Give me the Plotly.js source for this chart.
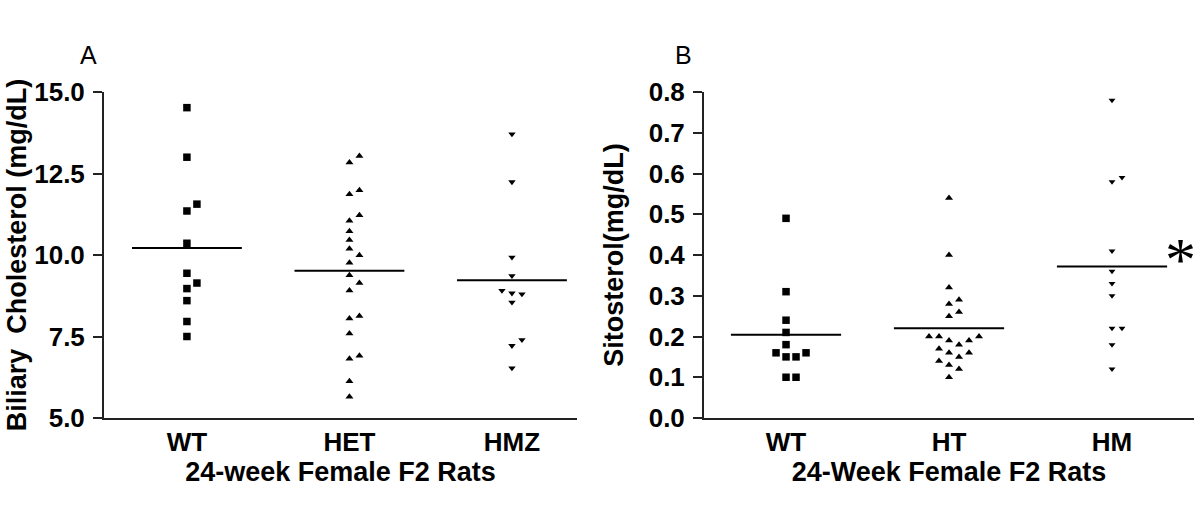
<!DOCTYPE html>
<html>
<head>
<meta charset="utf-8">
<script src="https://cdn.plot.ly/plotly-3.0.1.min.js"></script>
<style>html,body{margin:0;padding:0;background:#fff;}#chart{width:1200px;height:514px;}</style>
</head>
<body>
<div id="chart"></div>
<script>
// ---- Data ----
const categoriesA = ['WT', 'HET', 'HMZ'];
const wtA  = [14.52, 13.0, 11.56, 11.35, 10.36, 9.44, 9.14, 8.97, 8.60, 7.96, 7.50];
const hetA = [13.04, 12.84, 11.99, 11.86, 11.22, 11.05, 10.73, 10.46, 10.19, 9.99, 9.76, 9.38, 9.14, 8.91, 8.13, 8.05, 7.59, 6.91, 6.82, 6.13, 5.65];
const hmzA = [13.71, 12.24, 9.93, 9.36, 8.91, 8.83, 8.80, 8.55, 7.40, 7.22, 6.53];

const categoriesB = ['WT', 'HT', 'HM'];
const wtB = [0.49, 0.31, 0.24, 0.21, 0.18, 0.16, 0.16, 0.15, 0.15, 0.10, 0.10];
const htB = [0.54, 0.40, 0.32, 0.29, 0.28, 0.26, 0.25, 0.20, 0.20, 0.20, 0.19, 0.19, 0.18, 0.17, 0.16, 0.16, 0.15, 0.14, 0.13, 0.12, 0.10];
const hmB = [0.78, 0.59, 0.58, 0.41, 0.36, 0.33, 0.30, 0.22, 0.22, 0.18, 0.12];

const yTitleA = 'Biliary\u00A0 Cholesterol (mg/dL)';
const yTitleB = 'Sitosterol(mg/dL)';
const xTitleA = '24-week Female F2 Rats';
const xTitleB = '24-Week Female F2 Rats';
const panelLabels = ['A', 'B'];
const significance = '*';

// ---- Layout geometry ----
const W = 1200, H = 514;
const margin = {l: 0, r: 0, t: 92, b: 96};
const plotH = H - margin.t - margin.b;
const domA = [0.0867, 0.4808], domB = [0.5867, 0.995];
const xRangeA = [-0.51, 2.4], xRangeB = [-0.503, 2.503];
const yRangeA = [5, 15], yRangeB = [0, 0.8];
const halfMean = 0.338;

function pxPerUnitX(dom, rng) { return (dom[1] - dom[0]) * W / (rng[1] - rng[0]); }
function pxPerUnitY(rng) { return plotH / (rng[1] - rng[0]); }

// simple deterministic beeswarm: points that would overlap are shifted sideways
function swarm(values, yppu, xppu, slotPx, minDist) {
  const order = values.map((v, i) => i).sort((a, b) => values[a] - values[b]);
  const placed = [];
  const slots = new Array(values.length).fill(0);
  const cand = [0, 1, -1, 2, -2, 3, -3];
  order.forEach(i => {
    for (const s of cand) {
      const hit = placed.some(p => p.s === s && Math.abs(p.v - values[i]) * yppu < minDist);
      if (!hit) { slots[i] = s; placed.push({s: s, v: values[i]}); break; }
    }
  });
  return slots.map(s => s * slotPx / xppu);
}

const mean = arr => arr.reduce((a, b) => a + b, 0) / arr.length;

function groupTraces(values, idx, xa, ya, symbol, size, yppu, xppu) {
  const off = swarm(values, yppu, xppu, 10, 8.5);
  const m = mean(values);
  return [
    {type: 'scatter', mode: 'markers', xaxis: xa, yaxis: ya,
     x: values.map((v, i) => idx + off[i]), y: values,
     marker: {symbol: symbol, size: size, color: '#000', line: {width: 0}},
     hoverinfo: 'y'},
    {type: 'scatter', mode: 'lines', xaxis: xa, yaxis: ya,
     x: [idx - halfMean, idx + halfMean], y: [m, m],
     line: {color: '#000', width: 2}, hoverinfo: 'skip'}
  ];
}

const xppuA = pxPerUnitX(domA, xRangeA), xppuB = pxPerUnitX(domB, xRangeB);
const yppuA = pxPerUnitY(yRangeA), yppuB = pxPerUnitY(yRangeB);

const traces = [].concat(
  groupTraces(wtA, 0, 'x', 'y', 'square', 7.5, yppuA, xppuA),
  groupTraces(hetA, 1, 'x', 'y', 'triangle-up', 7, yppuA, xppuA),
  groupTraces(hmzA, 2, 'x', 'y', 'triangle-down', 6.5, yppuA, xppuA),
  groupTraces(wtB, 0, 'x2', 'y2', 'square', 7.5, yppuB, xppuB),
  groupTraces(htB, 1, 'x2', 'y2', 'triangle-up', 7, yppuB, xppuB),
  groupTraces(hmB, 2, 'x2', 'y2', 'triangle-down', 6, yppuB, xppuB)
);

const FONT = 'Liberation Sans, Arial, Helvetica, sans-serif';
const tickFont = {family: FONT, size: 26, color: '#000', weight: 700};
const titleFont = {family: FONT, size: 27, color: '#000', weight: 700};

function xAxis(dom, rng, cats, title, anchor) {
  return {domain: dom, range: rng, anchor: anchor,
    tickmode: 'array', tickvals: [0, 1, 2], ticktext: cats, ticks: '',
    tickfont: tickFont, ticklabelstandoff: 0,
    showline: true, linecolor: '#222', linewidth: 2, showgrid: false, zeroline: false,
    fixedrange: true,
    title: {text: title, font: titleFont, standoff: 3}};
}
function yAxis(rng, dtick, title, anchor, standoff) {
  return {domain: [0, 1], range: rng, anchor: anchor, dtick: dtick, tick0: rng[0],
    tickformat: '.1f', ticks: 'outside', ticklen: 9, tickwidth: 2, tickcolor: '#222',
    tickfont: tickFont, ticklabelstandoff: 3,
    showline: true, linecolor: '#222', linewidth: 2, showgrid: false, zeroline: false,
    fixedrange: true,
    title: {text: title, font: titleFont, standoff: standoff}};
}

const layout = {
  width: W, height: H, margin: margin,
  paper_bgcolor: '#fff', plot_bgcolor: '#fff', showlegend: false,
  xaxis: xAxis(domA, xRangeA, categoriesA, xTitleA, 'y'),
  yaxis: yAxis(yRangeA, 2.5, yTitleA, 'x', 0),
  xaxis2: xAxis(domB, xRangeB, categoriesB, xTitleB, 'y2'),
  yaxis2: yAxis(yRangeB, 0.1, yTitleB, 'x2', 17),
  annotations: [
    {text: panelLabels[0], xref: 'paper', yref: 'paper', x: 88 / W, y: 1 + (margin.t - 55) / plotH,
     showarrow: false, xanchor: 'center', yanchor: 'middle', font: {family: FONT, size: 25, color: '#000'}},
    {text: panelLabels[1], xref: 'paper', yref: 'paper', x: 683 / W, y: 1 + (margin.t - 55) / plotH,
     showarrow: false, xanchor: 'center', yanchor: 'middle', font: {family: FONT, size: 25, color: '#000'}},
    {text: significance, xref: 'paper', yref: 'paper', x: 1180 / W, y: (H - margin.b - 259) / plotH,
     showarrow: false, xanchor: 'center', yanchor: 'middle', font: {family: 'Liberation Serif, serif', size: 62, color: '#000'}}
  ]
};

Plotly.newPlot('chart', traces, layout, {displayModeBar: false, staticPlot: true});
</script>
</body>
</html>
